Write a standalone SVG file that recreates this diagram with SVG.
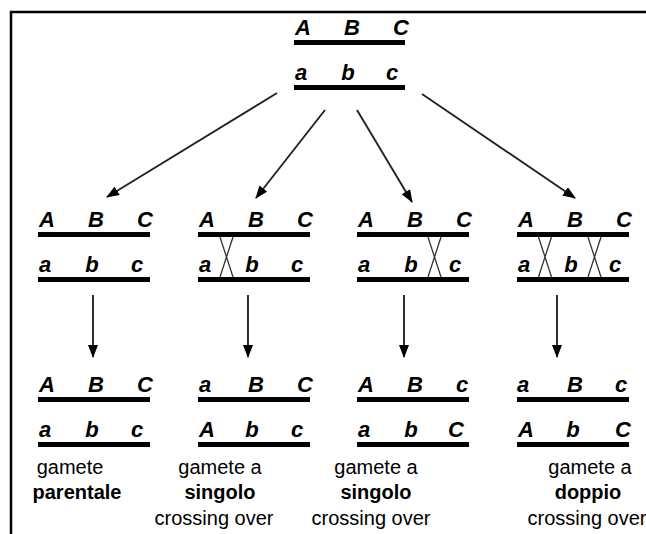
<svg xmlns="http://www.w3.org/2000/svg" width="646" height="534" viewBox="0 0 646 534">
<style>
.g{font-family:"Liberation Sans",Arial,sans-serif;font-weight:bold;font-style:italic;font-size:22px;fill:#000;text-anchor:middle}
.t{font-family:"Liberation Sans",Arial,sans-serif;font-size:20px;fill:#000;text-anchor:middle}
.b{font-weight:bold}
.ln{fill:#000}
.x{fill:none;stroke:#333;stroke-width:1.3}
.ar{fill:none;stroke:#222;stroke-width:1.9}
</style>
<defs>
<marker id="ah" viewBox="0 0 13 10" markerWidth="13" markerHeight="10" refX="12" refY="5" orient="auto" markerUnits="userSpaceOnUse">
<path d="M0,0 L13,5 L0,10 z" fill="#000"/>
</marker>
</defs>
<rect width="646" height="534" fill="#fff"/>
<path d="M11,534 V12 H646" fill="none" stroke="#000" stroke-width="2.5"/>

<g id="parent">
<text class="g" x="303" y="35">A</text><text class="g" x="352" y="35">B</text><text class="g" x="401" y="35">C</text>
<rect class="ln" x="294" y="40" width="111" height="5"/>
<text class="g" x="301" y="80">a</text><text class="g" x="348" y="80">b</text><text class="g" x="392" y="80">c</text>
<rect class="ln" x="294" y="85" width="111" height="5"/>
</g>

<g id="meiosis1">
<text class="g" x="47" y="227">A</text><text class="g" x="96" y="227">B</text><text class="g" x="145" y="227">C</text>
<rect class="ln" x="38" y="232" width="112" height="5"/>
<text class="g" x="45" y="272">a</text><text class="g" x="92" y="272">b</text><text class="g" x="137" y="272">c</text>
<rect class="ln" x="38" y="277" width="112" height="5"/>
</g>

<g id="meiosis2">
<text class="g" x="207" y="227">A</text><text class="g" x="256" y="227">B</text><text class="g" x="305" y="227">C</text>
<rect class="ln" x="198" y="232" width="112" height="5"/>
<text class="g" x="205" y="272">a</text><text class="g" x="252" y="272">b</text><text class="g" x="297" y="272">c</text>
<rect class="ln" x="198" y="277" width="112" height="5"/>
<path class="x" d="M220,237 Q226.5,257 233,277 M233,237 Q226.5,257 220,277"/>
</g>

<g id="meiosis3">
<text class="g" x="366" y="227">A</text><text class="g" x="415" y="227">B</text><text class="g" x="464" y="227">C</text>
<rect class="ln" x="357" y="232" width="112" height="5"/>
<text class="g" x="364" y="272">a</text><text class="g" x="411" y="272">b</text><text class="g" x="455" y="272">c</text>
<rect class="ln" x="357" y="277" width="112" height="5"/>
<path class="x" d="M428,237 Q434.5,257 441,277 M441,237 Q434.5,257 428,277"/>
</g>

<g id="meiosis4">
<text class="g" x="526" y="227">A</text><text class="g" x="575" y="227">B</text><text class="g" x="624" y="227">C</text>
<rect class="ln" x="517" y="232" width="112" height="5"/>
<text class="g" x="524" y="272">a</text><text class="g" x="571" y="272">b</text><text class="g" x="615" y="272">c</text>
<rect class="ln" x="517" y="277" width="112" height="5"/>
<path class="x" d="M538.5,237 Q545,257 551.5,277 M551.5,237 Q545,257 538.5,277"/>
<path class="x" d="M588,237 Q594.5,257 601,277 M601,237 Q594.5,257 588,277"/>
</g>

<g id="gamete1">
<text class="g" x="47" y="392">A</text><text class="g" x="96" y="392">B</text><text class="g" x="145" y="392">C</text>
<rect class="ln" x="38" y="397" width="112" height="5"/>
<text class="g" x="45" y="437">a</text><text class="g" x="92" y="437">b</text><text class="g" x="137" y="437">c</text>
<rect class="ln" x="38" y="442" width="112" height="5"/>
<text class="t" x="70" y="474">gamete</text>
<text class="t b" x="77" y="499">parentale</text>
</g>

<g id="gamete2">
<text class="g" x="205" y="392">a</text><text class="g" x="256" y="392">B</text><text class="g" x="305" y="392">C</text>
<rect class="ln" x="198" y="397" width="112" height="5"/>
<text class="g" x="207" y="437">A</text><text class="g" x="252" y="437">b</text><text class="g" x="297" y="437">c</text>
<rect class="ln" x="198" y="442" width="112" height="5"/>
<text class="t" x="220" y="474">gamete a</text>
<text class="t b" x="220" y="499">singolo</text>
<text class="t" x="214" y="525">crossing over</text>
</g>

<g id="gamete3">
<text class="g" x="366" y="392">A</text><text class="g" x="415" y="392">B</text><text class="g" x="462" y="392">c</text>
<rect class="ln" x="357" y="397" width="112" height="5"/>
<text class="g" x="364" y="437">a</text><text class="g" x="411" y="437">b</text><text class="g" x="456" y="437">C</text>
<rect class="ln" x="357" y="442" width="112" height="5"/>
<text class="t" x="376" y="474">gamete a</text>
<text class="t b" x="376" y="499">singolo</text>
<text class="t" x="371" y="525">crossing over</text>
</g>

<g id="gamete4">
<text class="g" x="523" y="392">a</text><text class="g" x="575" y="392">B</text><text class="g" x="621" y="392">c</text>
<rect class="ln" x="517" y="397" width="112" height="5"/>
<text class="g" x="526" y="437">A</text><text class="g" x="573" y="437">b</text><text class="g" x="623" y="437">C</text>
<rect class="ln" x="517" y="442" width="112" height="5"/>
<text class="t" x="590" y="474">gamete a</text>
<text class="t b" x="588" y="499">doppio</text>
<text class="t" x="587" y="525">crossing over</text>
</g>

<g id="connectors">
<line class="ar" x1="277" y1="93" x2="107" y2="197" marker-end="url(#ah)"/>
<line class="ar" x1="325" y1="110" x2="256" y2="198" marker-end="url(#ah)"/>
<line class="ar" x1="357" y1="110" x2="412" y2="202" marker-end="url(#ah)"/>
<line class="ar" x1="422" y1="94" x2="575" y2="198" marker-end="url(#ah)"/>
<line class="ar" x1="93" y1="295" x2="93" y2="357" marker-end="url(#ah)"/>
<line class="ar" x1="248" y1="295" x2="248" y2="357" marker-end="url(#ah)"/>
<line class="ar" x1="404" y1="295" x2="404" y2="357" marker-end="url(#ah)"/>
<line class="ar" x1="557" y1="295" x2="557" y2="357" marker-end="url(#ah)"/>
</g>
</svg>
